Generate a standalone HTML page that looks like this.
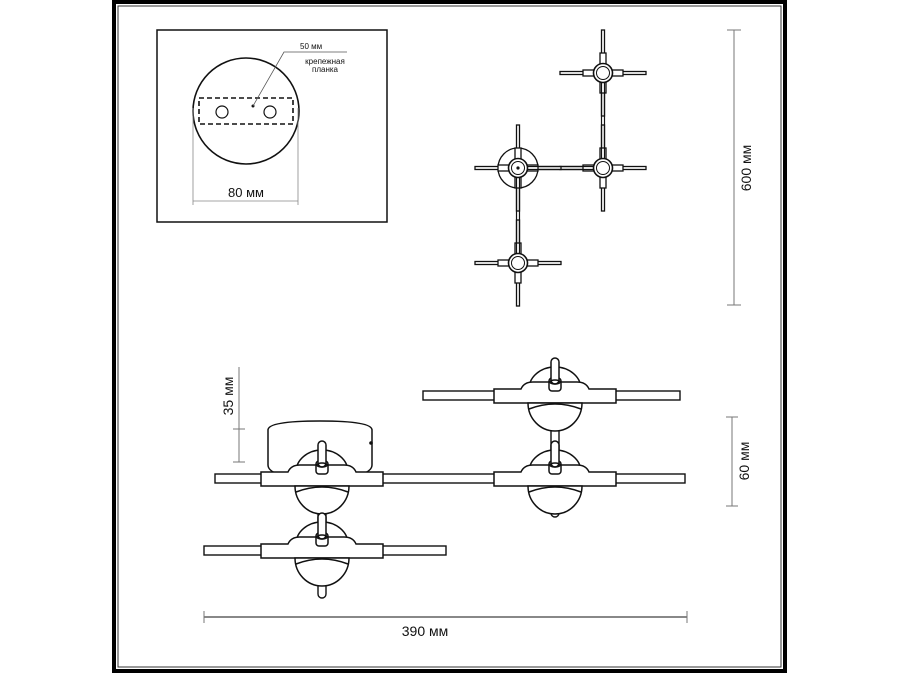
<!DOCTYPE html>
<html><head><meta charset="utf-8"><style>
html,body{margin:0;padding:0;background:#fff;}
svg{display:block;}
text{font-family:"Liberation Sans",sans-serif;fill:#111;}
</style></head><body>
<svg width="900" height="675" viewBox="0 0 900 675" xmlns="http://www.w3.org/2000/svg">
<defs>
  <g id="cross" fill="#fff" stroke="#111" stroke-width="1.3">
    <rect x="-43" y="-1.5" width="86" height="3"/>
    <rect x="-1.5" y="-43" width="3" height="86"/>
    <rect x="-20" y="-3" width="40" height="6"/>
    <rect x="-3" y="-20" width="6" height="40"/>
    <circle r="9.5" stroke-width="1.6"/>
    <circle r="6.5" stroke-width="1"/>
  </g>
  <g id="fix" fill="#fff" stroke="#111" stroke-width="1.5">
    <path d="M-26,0 A26 22 0 0 1 26,0 Z"/>
    <path d="M-61,0 H-34 Q-31,-7 -22,-7 L22,-7 Q31,-7 34,0 H61 V14 H-61 Z"/>
    <path d="M-27,14 A27 28 0 0 0 27,14 Z"/>
    <path d="M-26,20 Q0,10 26,20" fill="none"/>
    <rect x="-6" y="-11" width="12" height="13" rx="3"/>
    <rect x="-4" y="-31" width="8" height="26" rx="4"/>
    <ellipse cx="0" cy="-7" rx="5" ry="2" fill="none"/>
  </g>
</defs>

<!-- outer frame -->
<rect x="114" y="2" width="671" height="669" fill="none" stroke="#000" stroke-width="4"/>
<rect x="118" y="6" width="663" height="661" fill="none" stroke="#333" stroke-width="1"/>

<!-- inset box -->
<rect x="157" y="30" width="230" height="192" fill="#fff" stroke="#111" stroke-width="1.5"/>
<circle cx="246" cy="111" r="53" fill="none" stroke="#111" stroke-width="1.6"/>
<rect x="199" y="98" width="94" height="26" fill="none" stroke="#111" stroke-width="1.6" stroke-dasharray="5,3"/>
<circle cx="222" cy="112" r="6" fill="none" stroke="#111" stroke-width="1.2"/>
<circle cx="270" cy="112" r="6" fill="none" stroke="#111" stroke-width="1.2"/>
<circle cx="253" cy="106" r="1.5" fill="#111"/>
<polyline points="253,106 284,52 347,52" fill="none" stroke="#555" stroke-width="0.8"/>
<text x="300" y="49" font-size="8">50 мм</text>
<text x="325" y="64" font-size="8" text-anchor="middle">крепежная</text>
<text x="325" y="72" font-size="8" text-anchor="middle">планка</text>
<line x1="193" y1="108" x2="193" y2="205" stroke="#888" stroke-width="0.8"/>
<line x1="298" y1="108" x2="298" y2="205" stroke="#888" stroke-width="0.8"/>
<line x1="193" y1="201" x2="298" y2="201" stroke="#888" stroke-width="0.8"/>
<text x="246" y="197" font-size="13" text-anchor="middle">80 мм</text>

<!-- top view -->
<circle cx="518" cy="168" r="20" fill="none" stroke="#111" stroke-width="1.3"/>
<use href="#cross" x="603" y="73"/>
<use href="#cross" x="603" y="168"/>
<use href="#cross" x="518" y="168"/>
<use href="#cross" x="518" y="263"/>
<g stroke="#111" stroke-width="1.2">
  <line x1="601.5" y1="83" x2="601.5" y2="158"/>
  <line x1="604.5" y1="83" x2="604.5" y2="158"/>
  <line x1="528" y1="166.5" x2="593" y2="166.5"/>
  <line x1="528" y1="169.5" x2="593" y2="169.5"/>
  <line x1="516.5" y1="178" x2="516.5" y2="253"/>
  <line x1="519.5" y1="178" x2="519.5" y2="253"/>
</g>
<circle cx="518" cy="168" r="1.6" fill="#111"/>
<line x1="734" y1="30" x2="734" y2="305" stroke="#777" stroke-width="1"/>
<line x1="727" y1="30" x2="741" y2="30" stroke="#777"/>
<line x1="727" y1="305" x2="741" y2="305" stroke="#777"/>
<text transform="translate(751,168) rotate(-90)" font-size="14" text-anchor="middle">600 мм</text>

<!-- side view -->
<line x1="239" y1="367" x2="239" y2="462" stroke="#777" stroke-width="1"/>
<line x1="233" y1="429" x2="245" y2="429" stroke="#777"/>
<line x1="233" y1="462" x2="245" y2="462" stroke="#777"/>
<text transform="translate(233,396) rotate(-90)" font-size="14" text-anchor="middle">35 мм</text>

<path d="M268,430 Q268,421 320,421 Q372,421 372,430 L372,465 Q372,478 320,478 Q268,478 268,465 Z" fill="#fff" stroke="#111" stroke-width="1.5"/>
<circle cx="371" cy="443" r="1.8" fill="#111"/>

<g fill="#fff" stroke="#111" stroke-width="1.4">
  <rect x="215" y="474" width="470" height="9"/>
  <rect x="423" y="391" width="257" height="9"/>
  <rect x="204" y="546" width="242" height="9"/>
  <rect x="551" y="410" width="8" height="66"/>
  <rect x="318" y="490" width="8" height="60"/>
  <rect x="551" y="495" width="8" height="22" rx="4"/>
  <rect x="318" y="570" width="8" height="28" rx="4"/>
</g>
<use href="#fix" x="555" y="389"/>
<use href="#fix" x="555" y="472"/>
<use href="#fix" x="322" y="472"/>
<use href="#fix" x="322" y="544"/>

<line x1="732" y1="417" x2="732" y2="506" stroke="#777" stroke-width="1"/>
<line x1="726" y1="417" x2="738" y2="417" stroke="#777"/>
<line x1="726" y1="506" x2="738" y2="506" stroke="#777"/>
<text transform="translate(749,461) rotate(-90)" font-size="14" text-anchor="middle">60 мм</text>

<line x1="204" y1="617" x2="687" y2="617" stroke="#111" stroke-width="1"/>
<line x1="204" y1="611" x2="204" y2="623" stroke="#777"/>
<line x1="687" y1="611" x2="687" y2="623" stroke="#777"/>
<text x="425" y="636" font-size="14" text-anchor="middle">390 мм</text>
</svg>
</body></html>
